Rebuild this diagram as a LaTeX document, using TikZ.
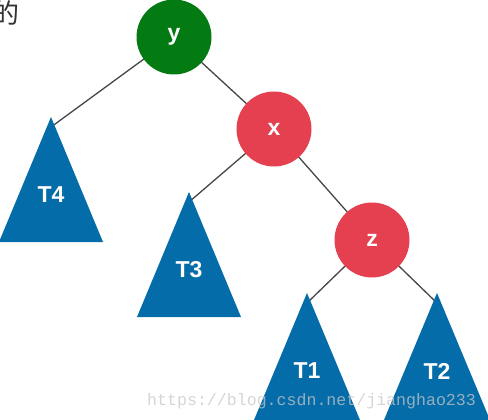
\documentclass[tikz,border=0pt]{standalone}
\usepackage{fontspec}
\setmainfont{Liberation Sans}
\newfontfamily\cjkfont{Noto Sans CJK SC}
\newfontfamily\markfont{Liberation Mono}
\definecolor{nodegreen}{RGB}{4,122,18}
\definecolor{nodered}{RGB}{228,64,80}
\definecolor{treeblue}{RGB}{4,108,168}
\definecolor{edgegray}{RGB}{70,70,70}
\begin{document}
\begin{tikzpicture}[x=1pt,y=-1pt,
  vertex/.style={circle,minimum size=75pt,inner sep=0pt,text=white,
    font=\fontsize{23}{23}\selectfont\bfseries},
  subtree/.style={fill=treeblue},
  treelabel/.style={text=white,font=\fontsize{23}{23}\selectfont\bfseries},
  edge/.style={draw=edgegray,line width=1.3pt}]
\useasboundingbox (0,0) rectangle (488,420);
\clip (0,0) rectangle (488,420);

% apexes of the subtrees
\coordinate (a4) at (51,117);
\coordinate (a3) at (189,192);
\coordinate (a1) at (307,293);
\coordinate (a2) at (437,293);

% inner node centres
\coordinate (cy) at (174,37);
\coordinate (cx) at (274,129);
\coordinate (cz) at (372,240);

% tree edges, drawn first so nodes cover their ends
\path[edge] (cy) -- ([yshift=-10pt]a4);
\path[edge] (cy) -- (cx);
\path[edge] (cx) -- ([yshift=-10pt]a3);
\path[edge] (cx) -- (cz);
\path[edge] (cz) -- ([yshift=-10pt]a1);
\path[edge] (cz) -- ([yshift=-10pt]a2);

% subtrees
\fill[subtree] (a4) -- (103,242) -- (-1,242) -- cycle;
\fill[subtree] (a3) -- (241,317) -- (137,317) -- cycle;
\fill[subtree] (a1) -- (360,420) -- (254,420) -- cycle;
\fill[subtree] (a2) -- (490,420) -- (384,420) -- cycle;
\node[treelabel] (t4) at (51,195) {T4};
\node[treelabel] (t3) at (189,270) {T3};
\node[treelabel] (t1) at (307,371) {T1};
\node[treelabel] (t2) at (437,371) {T2};

% inner nodes
\node[vertex,fill=nodegreen] (y) at (cy) {y};
\node[vertex,fill=nodered] (x) at (cx) {x};
\node[vertex,fill=nodered] (z) at (cz) {z};

% caption fragment and blog address
\node[text=black!80,font=\cjkfont\fontsize{27}{27}\selectfont] (cap) at (6,13) {的};
\node[anchor=base west,text=gray!45,opacity=0.75,inner sep=0pt,
  font=\markfont\fontsize{16.6}{16.6}\selectfont] (url) at (147,405) {https://blog.csdn.net/jianghao233};
\end{tikzpicture}
\end{document}
